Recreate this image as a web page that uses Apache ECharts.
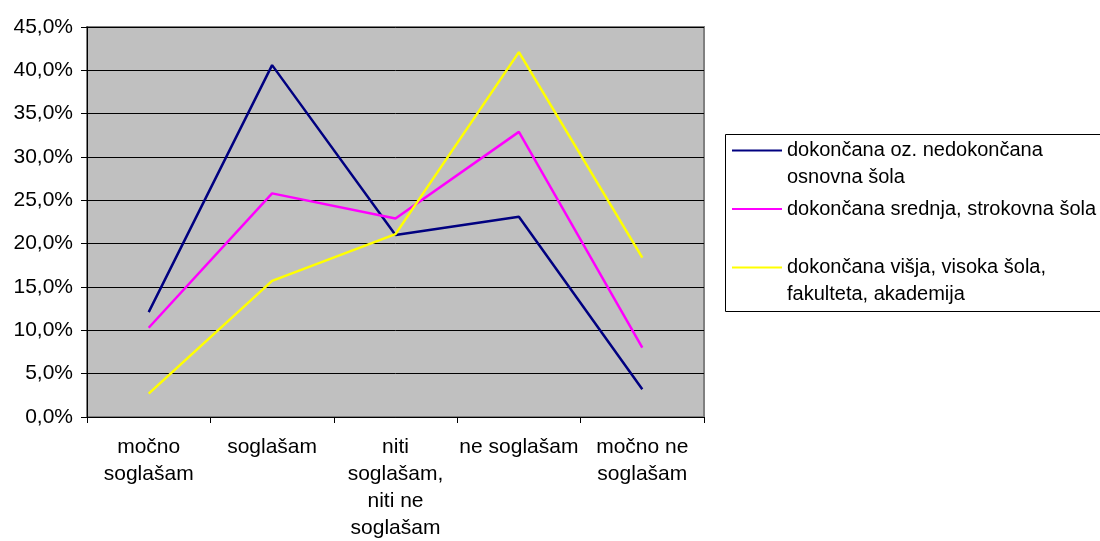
<!DOCTYPE html>
<html>
<head>
<meta charset="utf-8">
<style>
    html,body{margin:0;padding:0;background:#fff;}
    #lineChart{width:1100px;height:541px;}
</style>
<script src="https://cdn.jsdelivr.net/npm/echarts@6/dist/echarts.min.js"></script>
</head>
<body>
<div id="lineChart"></div>
<script>
//类别
var categories=['močno\nsoglašam','soglašam','niti\nsoglašam,\nniti ne\nsoglašam','ne soglašam','močno ne\nsoglašam'];
//系列名称
var seriesNames=['dokončana oz. nedokončana osnovna šola','dokončana srednja, strokovna šola','dokončana višja, visoka šola, fakulteta, akademija'];
//图例文字(每项两行, 第二项第二行为空)
var legendText=['dokončana oz. nedokončana\nosnovna šola','dokončana srednja, strokovna šola\n ','dokončana višja, visoka šola,\nfakulteta, akademija'];
//数据 (%)
var osnovna=[12.1,40.6,21.0,23.1,3.2];
var srednja=[10.3,25.8,22.9,32.9,8.0];
var visoka=[2.7,15.7,21.1,42.1,18.4];
var lineColor=['#000080','#FF00FF','#FFFF00'];
var fontName='"Liberation Sans", Arial, sans-serif';
//图例线: 顶部一条横线, 对齐第一行文字
var legendIcon='path://M0,0L50,0L50,2L0,2Z M0,29L0.01,29Z';

function seriesData() {
    var values=[osnovna,srednja,visoka];
    var arr=[];
    for(var i=0;i<values.length;i++){
        arr.push({
            name:seriesNames[i],
            type:'line',
            symbol:'none',
            smooth:false,
            lineStyle:{color:lineColor[i],width:2.5},
            itemStyle:{color:lineColor[i]},
            data:values[i]
        });
    }
    return arr;
}
function createChart() {
    var chart=echarts.init(document.getElementById('lineChart'));
    var option={
        animation:false,
        textStyle:{fontFamily:fontName},
        legend:{
            orient:'vertical',
            left:732,
            top:137,
            padding:0,
            itemGap:4.5,
            itemWidth:50,
            itemHeight:29,
            icon:legendIcon,
            selectedMode:false,
            itemStyle:{borderWidth:0},
            textStyle:{fontFamily:fontName,fontSize:20,color:'#000',lineHeight:27},
            formatter:function (name) {
                return legendText[seriesNames.indexOf(name)];
            },
            data:seriesNames
        },
        graphic:[{
            type:'rect',
            shape:{x:725.5,y:134.5,width:400,height:177},
            style:{fill:'none',stroke:'#000',lineWidth:1},
            silent:true
        }],
        grid:{
            left:87,
            right:396,
            top:27,
            bottom:124,
            show:true,
            backgroundColor:'#C0C0C0',
            borderColor:'#808080',
            borderWidth:2,
            containLabel:false,
            outerBoundsMode:'none'
        },
        xAxis:{
            type:'category',
            boundaryGap:true,
            data:categories,
            axisLine:{lineStyle:{color:'#000',width:1}},
            axisTick:{show:true,length:6,interval:0,lineStyle:{color:'#000'}},
            axisLabel:{
                interval:0,
                margin:17,
                color:'#000',
                fontSize:21,
                lineHeight:27,
                fontFamily:fontName
            }
        },
        yAxis:{
            type:'value',
            min:0,
            max:45,
            interval:5,
            axisLine:{show:true,lineStyle:{color:'#000',width:1}},
            axisTick:{show:true,length:6,lineStyle:{color:'#000'}},
            splitLine:{show:true,lineStyle:{color:'#000',width:1}},
            axisLabel:{
                margin:14,
                color:'#000',
                fontSize:21,
                fontFamily:fontName,
                formatter:function (v) {
                    return v.toFixed(1).replace('.',',')+'%';
                }
            }
        },
        series:seriesData()
    };
    chart.setOption(option);
    return chart;
}
createChart();
</script>
</body>
</html>
